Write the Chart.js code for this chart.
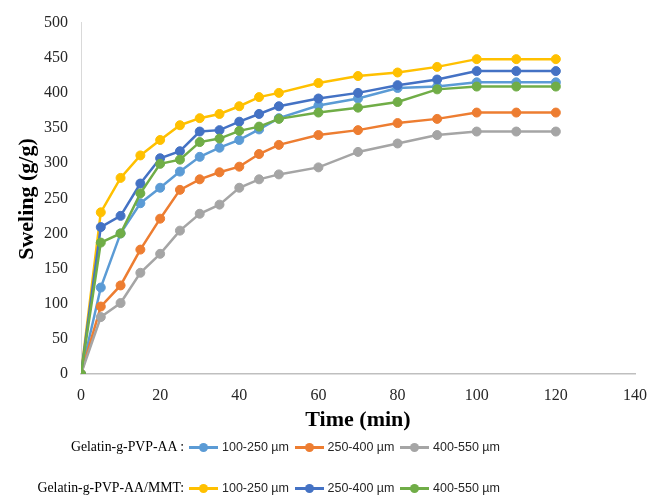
<!DOCTYPE html>
<html>
<head>
<meta charset="utf-8">
<script src="https://cdn.jsdelivr.net/npm/chart.js@4.4.0/dist/chart.umd.min.js"></script>
<style>
  html, body { margin: 0; padding: 0; background: #fff; }
  #wrap { position: relative; width: 659px; height: 496px; }
  #chart { position: absolute; left: 0; top: 0; }
  .row { position: absolute; left: 0; height: 20px; display: flex; align-items: center; }
  .prefix { width: 189px; text-align: right; font-family: "Liberation Serif", serif; font-size: 13.8px; color: #000; padding-right: 5px; box-sizing: border-box; }
  .item { display: flex; align-items: center; width: 105.5px; font-family: "Liberation Sans", sans-serif; font-size: 12.5px; color: #262626; }
  .mark { position: relative; width: 29px; height: 3px; margin-right: 4px; }
  .mark span { position: absolute; left: 10px; top: -3px; width: 9px; height: 9px; border-radius: 50%; }
</style>
</head>
<body>
<div id="wrap">
  <canvas id="chart" width="659" height="496"></canvas>
  <div class="row" id="row1" style="top:437px"></div>
  <div class="row" id="row2" style="top:478px"></div>
</div>
<script>
  // Time points (min)
  const time = [0, 5, 10, 15, 20, 25, 30, 35, 40, 45, 50, 60, 70, 80, 90, 100, 110, 120];

  // Gelatin-g-PVP-AA
  const aa100 = [0, 123, 200, 243, 265, 288, 309, 322, 333, 348, 364, 382, 392, 407, 409, 415, 415, 415];
  const aa250 = [0, 96, 126, 177, 221, 262, 277, 287, 295, 313, 326, 340, 347, 357, 363, 372, 372, 372];
  const aa400 = [0, 81, 101, 144, 171, 204, 228, 241, 265, 277, 284, 294, 316, 328, 340, 345, 345, 345];

  // Gelatin-g-PVP-AA/MMT
  const mmt100 = [0, 230, 279, 311, 333, 354, 364, 370, 381, 394, 400, 414, 424, 429, 437, 448, 448, 448];
  const mmt250 = [0, 209, 225, 271, 307, 317, 345, 347, 359, 370, 381, 392, 400, 411, 419, 431, 431, 431];
  const mmt400 = [0, 187, 200, 257, 299, 305, 330, 335, 346, 352, 363, 372, 379, 387, 405, 409, 409, 409];

  const sizeLabels = ['100-250 µm', '250-400 µm', '400-550 µm'];
  const groupLabels = ['Gelatin-g-PVP-AA :', 'Gelatin-g-PVP-AA/MMT:'];
  const xTicks = { min: 0, max: 140, step: 20 };
  const yTicks = { min: 0, max: 500, step: 50 };

  const groups = [
    { values: [aa100, aa250, aa400], colors: ['#5B9BD5', '#ED7D31', '#A5A5A5'] },
    { values: [mmt100, mmt250, mmt400], colors: ['#FFC000', '#4472C4', '#70AD47'] }
  ];

  // build datasets, later series drawn on top like in Excel
  const datasets = [];
  groups.forEach((g, gi) => {
    g.values.forEach((vals, si) => {
      datasets.push({
        label: groupLabels[gi] + ' ' + sizeLabels[si],
        data: time.map((t, i) => ({ x: t, y: vals[i] })),
        borderColor: g.colors[si],
        backgroundColor: g.colors[si],
        borderWidth: 2.5,
        pointRadius: 4.5,
        pointBorderWidth: 1,
        tension: 0
      });
    });
  });
  datasets.forEach((d, i) => { d.order = datasets.length - i; });

  // y axis title, drawn by hand so it can sit where the original has it
  const yTitlePlugin = {
    id: 'yTitle',
    afterDraw(chart) {
      const ctx = chart.ctx;
      ctx.save();
      ctx.translate(27, 199);
      ctx.rotate(-Math.PI / 2);
      ctx.font = 'bold 22px "Liberation Serif", serif';
      ctx.fillStyle = '#000';
      ctx.textAlign = 'center';
      ctx.textBaseline = 'middle';
      ctx.fillText('Sweling (g/g)', 0, 0);
      ctx.restore();
    }
  };

  const tickFont = { family: '"Liberation Serif", serif', size: 16 };

  new Chart(document.getElementById('chart'), {
    type: 'line',
    data: { datasets: datasets },
    options: {
      responsive: false,
      animation: false,
      layout: { padding: { top: 19, right: 23, bottom: 62, left: 0 } },
      plugins: { legend: { display: false }, tooltip: { enabled: false } },
      scales: {
        x: {
          type: 'linear',
          min: xTicks.min,
          max: xTicks.max,
          grid: { display: false, drawTicks: false },
          border: { display: true, color: '#bfbfbf', width: 1.5 },
          ticks: { stepSize: xTicks.step, padding: 12, color: '#262626', font: tickFont },
          title: {
            display: true,
            text: 'Time (min)',
            color: '#000',
            font: { family: '"Liberation Serif", serif', size: 22, weight: 'bold' },
            padding: { top: 0, bottom: 0 }
          },
          afterFit: (scale) => { scale.height = 60; }
        },
        y: {
          min: yTicks.min,
          max: yTicks.max,
          grid: { display: false, drawTicks: false },
          border: { display: true, color: '#d9d9d9', width: 1 },
          ticks: { stepSize: yTicks.step, padding: 13, color: '#262626', font: tickFont },
          afterFit: (scale) => { scale.width = 81; }
        }
      }
    },
    plugins: [yTitlePlugin]
  });

  // HTML legend in two rows
  ['row1', 'row2'].forEach((id, gi) => {
    const row = document.getElementById(id);
    const pre = document.createElement('div');
    pre.className = 'prefix';
    pre.textContent = groupLabels[gi];
    row.appendChild(pre);
    sizeLabels.forEach((lab, si) => {
      const c = groups[gi].colors[si];
      const item = document.createElement('div');
      item.className = 'item';
      item.innerHTML = `<div class="mark" style="background:${c}"><span style="background:${c}"></span></div>${lab}`;
      row.appendChild(item);
    });
  });
</script>
</body>
</html>
